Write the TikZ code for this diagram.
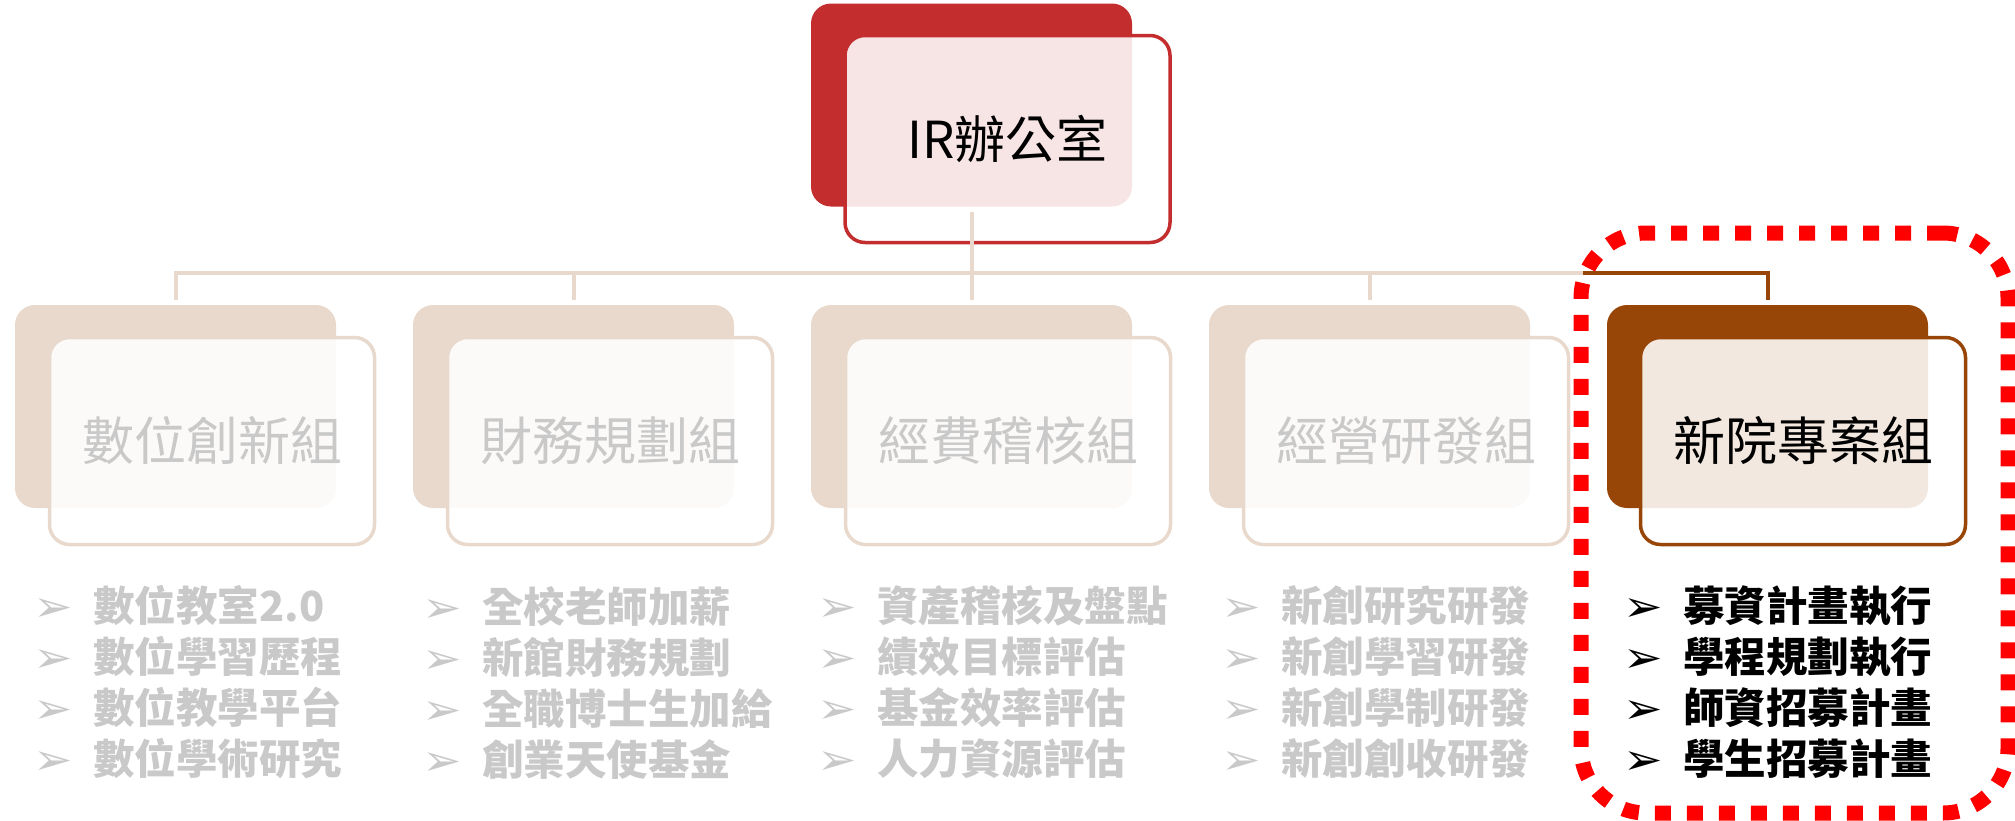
\documentclass[tikz,border=0pt]{standalone}
\usepackage{fontspec}
\setmainfont{Noto Sans CJK TC}
\newfontfamily\symfont{DejaVu Sans}
\definecolor{irred}{HTML}{C32D2E}
\definecolor{beige}{HTML}{E8D9CC}
\definecolor{brownx}{HTML}{984607}
\definecolor{greytext}{HTML}{C9C9C9}
\definecolor{hlred}{HTML}{FF0000}
\tikzset{
  backbox/.style={rectangle, rounded corners=20pt, minimum width=321pt, minimum height=203pt, inner sep=0pt},
  frontbox/.style={rectangle, rounded corners=20pt, minimum width=325pt, minimum height=207pt, inner sep=0pt,
    line width=3.5pt, fill=white, fill opacity=0.88, text opacity=1, font=\fontsize{52}{60}\selectfont},
  conn/.style={line width=4pt, draw=beige},
  connb/.style={line width=4pt, draw=brownx},
  bullets/.style={anchor=west, align=left, inner sep=0pt, font=\fontsize{41.5}{51}\selectfont\bfseries},
  hlframe/.style={rectangle, draw=hlred, line width=15pt, dash pattern=on 16pt off 16pt,
    rounded corners=65pt, minimum width=427pt, minimum height=580pt, inner sep=0pt},
}
\newcommand\bul{\makebox[60pt][l]{\scalebox{1.1}[1]{\symfont\fontsize{43}{43}\selectfont ➢}}}
\begin{document}
\begin{tikzpicture}[x=1pt,y=-1pt]
\useasboundingbox (0,0) rectangle (2015,820);
% top office
\node[backbox, fill=irred] (irb) at (971.5,105) {};
\node[frontbox, draw=irred, text=black, font=\fontsize{51}{60}\selectfont] (ir) at (1007.5,139) {IR辦公室};
% column 1
\node[backbox, fill=beige] (c1) at (175.5,406.5) {};
\node[frontbox, draw=beige, text=greytext] (f1) at (212,441) {數位創新組};
\node[bullets, text=greytext] (b1) at (33,682.5) {\bul 數位教室2.0\\\bul 數位學習歷程\\\bul 數位教學平台\\\bul 數位學術研究};
% column 2
\node[backbox, fill=beige] (c2) at (573.5,406.5) {};
\node[frontbox, draw=beige, text=greytext] (f2) at (610,441) {財務規劃組};
\node[bullets, text=greytext] (b2) at (422,682.5) {\bul 全校老師加薪\\\bul 新館財務規劃\\\bul 全職博士生加給\\\bul 創業天使基金};
% column 3
\node[backbox, fill=beige] (c3) at (971.5,406.5) {};
\node[frontbox, draw=beige, text=greytext] (f3) at (1008,441) {經費稽核組};
\node[bullets, text=greytext] (b3) at (817,682.5) {\bul 資產稽核及盤點\\\bul 績效目標評估\\\bul 基金效率評估\\\bul 人力資源評估};
% column 4
\node[backbox, fill=beige] (c4) at (1369.5,406.5) {};
\node[frontbox, draw=beige, text=greytext] (f4) at (1406,441) {經營研發組};
\node[bullets, text=greytext] (b4) at (1221,682.5) {\bul 新創研究研發\\\bul 新創學習研發\\\bul 新創學制研發\\\bul 新創創收研發};
% column 5
\node[backbox, fill=brownx] (c5) at (1767.5,406.5) {};
\node[frontbox, draw=brownx, text=black] (f5) at (1803,441) {新院專案組};
\node[bullets, text=black] (b5) at (1623,682.5) {\bul 募資計畫執行\\\bul 學程規劃執行\\\bul 師資招募計畫\\\bul 學生招募計畫};
% connectors
\coordinate (bus) at (971.5,273);
\coordinate (split) at (1583,273);
\draw[conn, shorten <=5pt, shorten >=5pt] (irb.south) -- (c3.north);
\draw[conn, shorten >=5pt] (bus) -| (c1.north);
\draw[conn, shorten >=5pt] (bus) -| (c2.north);
\draw[conn, shorten >=5pt] (bus) -| (c4.north);
\draw[conn] (bus) -- (split);
\draw[connb, shorten >=5pt] (split) -| (c5.north);
% highlight frame
\node[hlframe] (hl) at (1794.5,523) {};
\end{tikzpicture}
\end{document}
